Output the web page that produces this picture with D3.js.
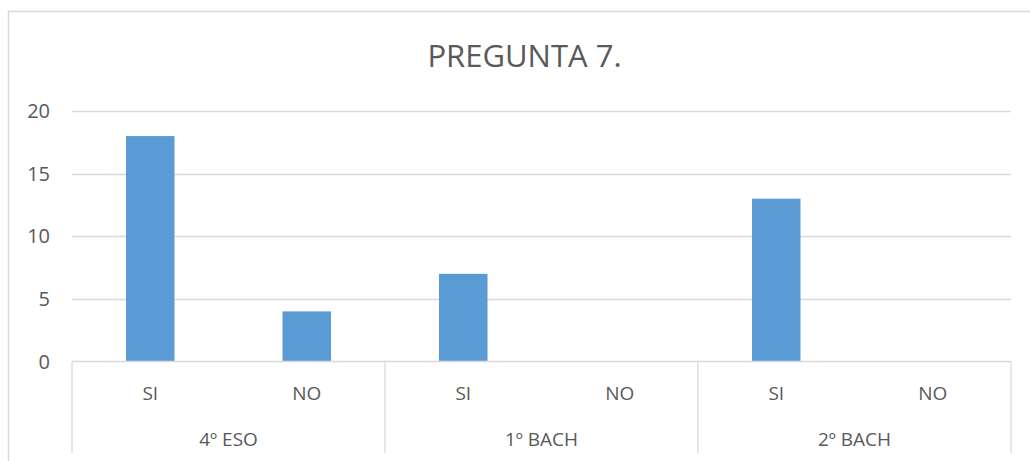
<!DOCTYPE html>
<html><head><meta charset="utf-8">
<script src="https://cdn.jsdelivr.net/npm/d3@7"></script>
<style>body{margin:0;background:#fff}svg{display:block}text{font-family:"Open Sans",sans-serif;fill:#595959}</style>
</head><body>
<svg id="c" width="1030" height="461"></svg>
<script>
const title = "PREGUNTA 7.";
const groups = ["4º ESO", "1º BACH", "2º BACH"];
const answers = ["SI", "NO"];
const values = [18, 4, 7, 0, 13, 0];
const yTicks = [0, 5, 10, 15, 20];

const svg = d3.select("#c");
const pLeft = 72, pRight = 1011, pTop = 111, pBottom = 361.5;
const cats = [];
groups.forEach((g, gi) => answers.forEach((a, ai) => cats.push({g, a, v: values[gi * answers.length + ai], key: g + "|" + a})));

const x = d3.scaleBand().domain(cats.map(d => d.key)).range([pLeft, pRight]).padding(0);
const xg = d3.scaleBand().domain(groups).range([pLeft, pRight]).padding(0);
const y = d3.scaleLinear().domain([0, 20]).range([pBottom, pTop]);

// outer border
svg.append("rect").attr("x", 8.5).attr("y", 11.5).attr("width", 1040).attr("height", 500)
  .attr("fill", "none").attr("stroke", "#d9d9d9").attr("stroke-width", 1.5);

// title
svg.append("text").attr("x", (pLeft + pRight) / 2 - 17).attr("y", 67).attr("text-anchor", "middle")
  .style("font-size", "31px").text(title);

// gridlines
svg.append("g").selectAll("line").data(yTicks.filter(t => t > 0)).join("line")
  .attr("x1", pLeft).attr("x2", pRight).attr("y1", d => Math.round(y(d)) + 0.5).attr("y2", d => Math.round(y(d)) + 0.5)
  .attr("stroke", "#d9d9d9").attr("stroke-width", 1.3);

// y labels
svg.append("g").selectAll("text").data(yTicks).join("text")
  .attr("x", 50).attr("y", d => y(d) + 7).attr("text-anchor", "end")
  .style("font-size", "20px").text(d => d);

// bars
const bw = x.bandwidth() * 0.31;
svg.append("g").selectAll("rect").data(cats).join("rect")
  .attr("x", d => x(d.key) + (x.bandwidth() - bw) / 2).attr("width", bw)
  .attr("y", d => y(d.v)).attr("height", d => y(0) - y(d.v))
  .attr("fill", "#5b9bd5");

// axis line
svg.append("line").attr("x1", pLeft).attr("x2", pRight).attr("y1", pBottom).attr("y2", pBottom)
  .attr("stroke", "#d9d9d9").attr("stroke-width", 1.3);

// group separators
const seps = groups.map(g => xg(g)).concat([pRight]);
svg.append("g").selectAll("line").data(seps).join("line")
  .attr("x1", d => d).attr("x2", d => d).attr("y1", pBottom).attr("y2", 453)
  .attr("stroke", "#d9d9d9").attr("stroke-width", 1.3);

// category labels
svg.append("g").selectAll("text").data(cats).join("text")
  .attr("x", d => x(d.key) + x.bandwidth() / 2).attr("y", 400).attr("text-anchor", "middle")
  .style("font-size", "19px").text(d => d.a);

svg.append("g").selectAll("text").data(groups).join("text")
  .attr("x", d => xg(d) + xg.bandwidth() / 2).attr("y", 446).attr("text-anchor", "middle")
  .style("font-size", "19px").text(d => d);
</script>
</body></html>
